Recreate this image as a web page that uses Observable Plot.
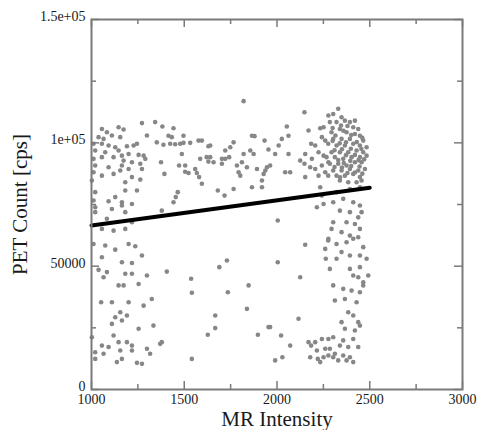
<!DOCTYPE html>
<html><head><meta charset="utf-8">
<script src="https://cdn.jsdelivr.net/npm/d3@7"></script>
<script src="https://cdn.jsdelivr.net/npm/@observablehq/plot@0.6"></script>
<style>body{margin:0;background:#fff}</style>
</head><body><div id="chart"></div>
<script>
// MR intensity vs PET count
const points = [
[1272,108000],[1056,105600],[1146,106300],[1173,105400],[1083,104300],[1110,103000],[1038,102300],[1065,101600],[1155,102300],[1299,103000],
[1011,99600],[1056,99600],[1092,98900],[1128,98200],[1191,98600],[1227,98900],[1245,99600],[1020,96900],[1074,96200],[1146,96900],
[1164,94800],[1200,95500],[1254,95100],[1281,94800],[1011,93500],[1056,94200],[1119,94200],[1173,92800],[1218,92100],[1263,91500],
[1290,93500],[1020,90800],[1092,90100],[1164,90800],[1200,89400],[1011,88100],[1119,87400],[1155,88800],[1218,86100],[1263,85100],
[1272,89400],[1002,84700],[1056,86700],[1182,84000],[1182,80700],[1245,80700],[1020,80000],[1011,76600],[1092,76300],[1128,78000],
[1164,75900],[1218,75200],[1020,73900],[1110,73200],[1164,74600],[1182,71900],[1020,71900],[1083,69200],[1218,67800],[1119,64400],
[1056,65100],[1182,65100],[1011,59000],[1074,58400],[1128,56700],[1200,59000],[1236,58100],[1056,53600],[1272,54300],[1164,51600],
[1218,51300],[1038,48500],[1083,47600],[1065,45500],[1182,46900],[1218,46900],[1299,46200],[1146,42200],[1173,42200],[1254,42800],
[1052,35400],[1110,35400],[1200,35400],[1281,34000],[1155,31300],[1128,29300],[1164,28000],[1191,30000],[1110,26600],[1254,24600],
[1002,21200],[1119,21900],[1146,19200],[1056,17800],[1092,17200],[1191,19200],[1218,17800],[1020,15100],[1065,14500],[1155,15800],
[1218,15800],[1299,16500],[1020,12400],[1164,12400],[1137,11100],[1245,10800],[1272,10400],
[1343,108400],[1382,106600],[1442,105900],[1415,102900],[1433,102300],[1496,102900],[1352,100200],[1388,99200],[1424,99600],[1451,99400],
[1478,99600],[1496,100000],[1532,100000],[1577,100900],[1595,100900],[1630,98600],[1487,95500],[1375,92100],[1472,90800],[1505,90800],
[1586,93500],[1621,94200],[1630,92400],[1393,87400],[1505,88300],[1523,87800],[1559,89400],[1568,87800],[1580,86100],[1595,83400],
[1465,80000],[1454,78000],[1442,75900],[1379,72500],[1406,47800],[1537,44900],[1325,36700],[1334,25900],[1379,19200],[1370,18500],
[1541,39200],[1627,22200],[1541,12400],[1316,14500],
[1820,116900],[1865,102900],[1879,102700],[1933,100900],[1766,100200],[1640,98900],[1748,98200],[1721,96900],[1954,97300],[1640,94200],
[1658,92100],[1703,93500],[1721,93500],[1742,94200],[1820,95500],[1856,96900],[1874,95500],[1811,92100],[1703,91500],[1784,90800],
[1838,90100],[1892,89400],[1937,88800],[1946,90100],[1928,87400],[1793,88100],[1802,86700],[1919,84700],[1865,82000],[1919,82000],
[1766,81300],[1681,80700],[1717,78600],[1730,52300],[1689,49600],[1735,39400],[1847,42200],[1838,32700],[1667,30000],[1667,24900],
[1897,22200],[1954,25300],
[2148,112400],[2277,111100],[2053,106600],[2062,102900],[2170,105000],[2233,105900],[2251,106300],[2026,101600],[2009,98900],[1990,95500],
[2062,95500],[1963,90800],[2044,88100],[2071,88100],[2184,99600],[2206,98900],[2152,95500],[2125,92800],[2148,91500],[2188,93500],
[2179,90100],[2206,89400],[2152,86100],[2224,96200],[2242,102300],[2260,100900],[2251,94800],[2242,90800],[2260,88100],[2224,86700],
[2277,92100],[2233,82000],[2242,78600],[2215,73900],[2251,75200],[2004,68500],[2152,58700],[2277,61100],[2260,57000],[2263,53000],
[2004,51600],[2125,45500],[2116,28700],[1963,25300],[2022,21900],[2071,17800],[1990,11800],[2029,13100],[2170,19200],[2184,17800],
[2206,19200],[2242,20500],[2277,20500],[2215,15800],[2260,16500],[2179,13100],[2220,12400],[2233,11100],[2251,13100],[2277,13800],
[2330,113800],[2303,111700],[2348,110400],[2285,108400],[2321,108400],[2366,109000],[2393,108400],[2411,106300],[2438,105600],[2339,105600],
[2294,104300],[2375,104300],[2420,103600],[2447,102900],[2303,101600],[2348,101600],[2393,101600],[2465,100900],[2276,99600],[2321,98900],
[2366,98900],[2411,99600],[2447,98900],[2483,98200],[2294,96200],[2339,96200],[2384,96200],[2429,96900],[2465,96200],[2267,94200],
[2312,94200],[2357,93500],[2402,94200],[2447,94200],[2483,94800],[2285,91500],[2330,91500],[2375,90800],[2420,92100],[2456,92100],
[2303,88800],[2348,88800],[2393,89400],[2438,88800],[2474,89400],[2276,86700],[2321,86700],[2366,86700],[2411,87400],[2447,86100],
[2339,84700],[2384,84000],[2429,84000],[2456,84700],
[2315,103000],[2358,104900],[2400,103200],[2430,100300],[2372,100200],[2338,99800],[2455,97500],[2398,97600],[2350,97400],[2310,97000],
[2420,95100],[2440,93000],[2372,95000],[2330,93000],[2395,92700],[2470,93300],[2360,91800],[2400,90600],[2445,90400],[2310,90200],
[2350,90000],[2420,88000],[2380,87800],[2340,86000],[2460,87500],[2300,100800],[2460,102000],[2380,106800],[2420,109000],[2345,107000],
[2300,106000],
[2321,80000],[2393,81300],[2447,82000],[2303,75900],[2357,77300],[2411,75900],[2447,74600],[2339,72500],[2393,71900],[2438,69800],
[2456,71900],[2303,67800],[2375,67800],[2420,67100],[2294,65100],[2348,63800],[2393,62400],[2438,61700],[2447,65100],[2276,60400],
[2321,59000],[2375,59700],[2411,61100],[2465,57700],[2348,55700],[2393,54300],[2321,53000],[2447,54300],[2285,48900],[2393,48900],
[2447,49600],[2483,53000],[2411,46200],[2438,45500],[2465,43500],[2492,46200],[2303,42200],[2357,40800],[2402,40100],[2447,39400],
[2465,42200],[2312,36100],[2366,36700],[2429,35400],[2384,31300],[2411,30000],[2348,27300],[2438,27300],[2366,24600],[2420,23900],
[2447,25900],[2303,21200],[2357,19900],[2411,20500],[2285,16500],[2339,17800],[2384,17200],[2438,17200],[2312,14500],[2357,13800],
[2393,13100],[2330,11800],[2375,11800],[2411,11100],[2303,13100]
];
const fitLine = [[1000,66500],[2500,81800]];
const xTicks = [1000,1500,2000,2500,3000];
const xMinorTicks = [1250,1750,2250,2750];
const yTicks = [0,50000,100000,150000];
const yTickLabels = ["0","50000","1e+05","1.5e+05"];
const yMinorTicks = [25000,75000,125000];
const xTitle = "MR Intensity";
const yTitle = "PET Count [cps]";

const W = 478, H = 430, ML = 91, MR = 16, MT = 19, MB = 41;
const frameW = W - ML - MR, frameH = H - MT - MB;
const major = 8, minor = 5;
const axisColor = "#7a7a7a";
const textColor = "#1a1a1a";
const tickStyle = {stroke: axisColor, strokeWidth: 1.5};
const chart = Plot.plot({
  width: W, height: H,
  marginLeft: ML, marginRight: MR, marginTop: MT, marginBottom: MB,
  style: {fontFamily: "'Liberation Serif', 'DejaVu Serif', serif", background: "#fff", color: textColor},
  x: {domain: [1000,3000]},
  y: {domain: [0,150000]},
  marks: [
    Plot.dot(points, {x: d => d[0], y: d => d[1], r: 2.3, fill: "#878787", stroke: "none"}),
    Plot.line(fitLine, {x: d => d[0], y: d => d[1], stroke: "#000", strokeWidth: 4}),
    // inward ticks on all four sides
    Plot.tickX(xTicks, {x: d => d, insetTop: frameH - major, ...tickStyle}),
    Plot.tickX(xMinorTicks, {x: d => d, insetTop: frameH - minor, ...tickStyle}),
    Plot.tickX(xTicks, {x: d => d, insetBottom: frameH - major, ...tickStyle}),
    Plot.tickX(xMinorTicks, {x: d => d, insetBottom: frameH - minor, ...tickStyle}),
    Plot.tickY(yTicks, {y: d => d, insetRight: frameW - major, ...tickStyle}),
    Plot.tickY(yMinorTicks, {y: d => d, insetRight: frameW - minor, ...tickStyle}),
    Plot.tickY(yTicks, {y: d => d, insetLeft: frameW - major, ...tickStyle}),
    Plot.tickY(yMinorTicks, {y: d => d, insetLeft: frameW - minor, ...tickStyle}),
    Plot.frame({stroke: axisColor, strokeWidth: 2}),
    // tick labels
    Plot.axisX({anchor: "bottom", ticks: xTicks, tickSize: 0, tickPadding: 5, fontSize: 14, fill: textColor, tickFormat: d => String(d), label: null}),
    Plot.axisY({anchor: "left", ticks: yTicks, tickSize: 0, tickPadding: 6, dy: -3, fontSize: 14, fill: textColor, tickFormat: d => yTickLabels[yTicks.indexOf(d)], label: null}),
    // axis titles
    Plot.text([xTitle], {text: d => d, frameAnchor: "bottom", dy: 30, fontSize: 21, fill: textColor, lineAnchor: "middle", textAnchor: "middle"}),
    Plot.text([yTitle], {text: d => d, frameAnchor: "left", dx: -71, rotate: -90, fontSize: 21, fill: textColor, lineAnchor: "middle", textAnchor: "middle"})
  ]
});
document.getElementById("chart").appendChild(chart);
</script>
</body></html>
